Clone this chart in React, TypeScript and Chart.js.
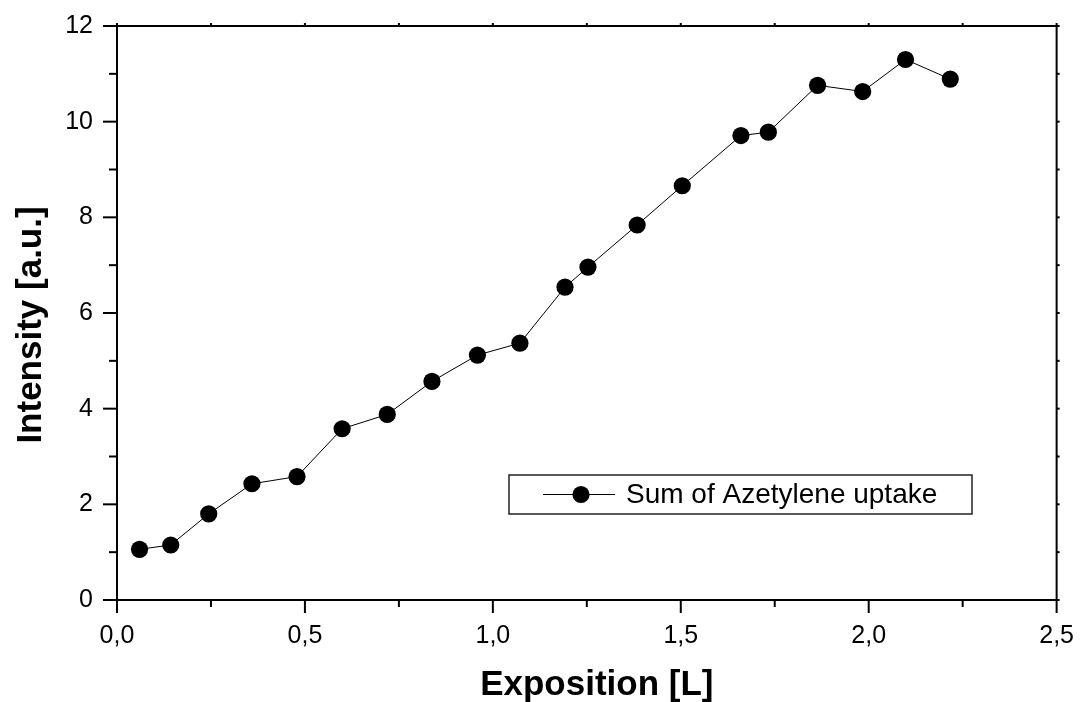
import { useEffect, useRef } from "react";
import { Chart, registerables } from "chart.js";

Chart.register(...registerables);

// Exposure in Langmuir and integrated uptake intensity
const exposition = [
  0.06, 0.143, 0.244, 0.359, 0.479, 0.599, 0.719, 0.838, 0.959, 1.072,
  1.192, 1.253, 1.384, 1.504, 1.66, 1.733, 1.864, 1.984, 2.098, 2.217,
];
const intensity = [
  1.06, 1.15, 1.8, 2.43, 2.58, 3.58, 3.88, 4.57, 5.12, 5.37,
  6.54, 6.96, 7.84, 8.66, 9.71, 9.78, 10.76, 10.63, 11.3, 10.89,
];

const seriesLabel = "Sum of Azetylene uptake";
const xTitle = "Exposition [L]";
const yTitle = "Intensity [a.u.]";

const xMajorTicks = [0, 0.5, 1.0, 1.5, 2.0, 2.5];
const xMinorTicks = [0.25, 0.75, 1.25, 1.75, 2.25];
const yMajorTicks = [0, 2, 4, 6, 8, 10, 12];
const yMinorTicks = [1, 3, 5, 7, 9, 11];

const FONT = "'Liberation Sans', Arial, Helvetica, sans-serif";

// Frame, tick marks, axis titles and the boxed legend
const framePlugin = {
  id: "originFrame",
  afterDraw(chart: any) {
    const { ctx, chartArea: a, scales } = chart;
    const xs = scales.x;
    const ys = scales.y;
    ctx.save();
    ctx.strokeStyle = "#000";
    ctx.fillStyle = "#000";

    // axis frame
    ctx.lineWidth = 2;
    ctx.strokeRect(a.left, a.top, a.right - a.left, a.bottom - a.top);

    const tick = (x1: number, y1: number, x2: number, y2: number) => {
      ctx.beginPath();
      ctx.moveTo(x1, y1);
      ctx.lineTo(x2, y2);
      ctx.stroke();
    };

    ctx.lineWidth = 2;
    for (const v of xMajorTicks) {
      const px = xs.getPixelForValue(v);
      tick(px, a.bottom, px, a.bottom + 13);
      tick(px, a.top, px, a.top - 3);
    }
    for (const v of xMinorTicks) {
      const px = xs.getPixelForValue(v);
      tick(px, a.bottom, px, a.bottom + 7);
      tick(px, a.top, px, a.top - 3);
    }
    for (const v of yMajorTicks) {
      const py = ys.getPixelForValue(v);
      tick(a.left, py, a.left - 14, py);
      tick(a.right, py, a.right + 3, py);
    }
    for (const v of yMinorTicks) {
      const py = ys.getPixelForValue(v);
      tick(a.left, py, a.left - 8, py);
      tick(a.right, py, a.right + 3, py);
    }

    // axis titles
    ctx.font = `bold 35px ${FONT}`;
    ctx.textAlign = "center";
    ctx.textBaseline = "alphabetic";
    ctx.fillText(xTitle, (a.left + a.right) / 2 + 10, a.bottom + 95);

    ctx.save();
    ctx.translate(a.left - 76, (a.top + a.bottom) / 2 + 12);
    ctx.rotate(-Math.PI / 2);
    ctx.fillText(yTitle, 0, 0);
    ctx.restore();

    // legend box
    const lx = a.left + 392;
    const ly = a.top + 449;
    const lw = 463;
    const lh = 39;
    ctx.lineWidth = 1.5;
    ctx.strokeStyle = "#222";
    ctx.strokeRect(lx, ly, lw, lh);
    const cy = ly + lh / 2;
    ctx.lineWidth = 1;
    ctx.strokeStyle = "#000";
    tick(lx + 34, cy, lx + 106, cy);
    ctx.beginPath();
    ctx.arc(lx + 72, cy, 8.6, 0, Math.PI * 2);
    ctx.fill();
    ctx.font = `28px ${FONT}`;
    ctx.textAlign = "left";
    ctx.textBaseline = "middle";
    ctx.fillText(seriesLabel, lx + 117, cy + 1);

    ctx.restore();
  },
};

export default function App() {
  const canvasRef = useRef<HTMLCanvasElement | null>(null);

  useEffect(() => {
    if (!canvasRef.current) return;
    const chart = new Chart(canvasRef.current, {
      type: "scatter",
      data: {
        datasets: [
          {
            label: seriesLabel,
            data: exposition.map((x, i) => ({ x, y: intensity[i] })),
            showLine: true,
            borderColor: "#000",
            borderWidth: 1,
            backgroundColor: "#000",
            pointRadius: 8.6,
            pointBorderWidth: 0,
            pointHoverRadius: 8.6,
            tension: 0,
          },
        ],
      },
      options: {
        responsive: true,
        maintainAspectRatio: false,
        animation: false,
        layout: { padding: { left: 0, top: 26, right: 20, bottom: 0 } },
        plugins: {
          legend: { display: false },
          tooltip: { enabled: false },
        },
        scales: {
          x: {
            type: "linear",
            min: 0,
            max: 2.5,
            border: { display: false },
            grid: {
              drawOnChartArea: false,
              drawTicks: true,
              tickLength: 13,
              color: "rgba(0,0,0,0)",
            },
            ticks: {
              stepSize: 0.5,
              padding: 8,
              color: "#000",
              font: { family: FONT, size: 25 },
              maxRotation: 0,
              callback: (v: any) => Number(v).toFixed(1).replace(".", ","),
            },
            afterFit: (s: any) => {
              s.height = 102;
            },
          },
          y: {
            type: "linear",
            min: 0,
            max: 12,
            border: { display: false },
            grid: {
              drawOnChartArea: false,
              drawTicks: true,
              tickLength: 14,
              color: "rgba(0,0,0,0)",
            },
            ticks: {
              stepSize: 2,
              padding: 10,
              color: "#000",
              font: { family: FONT, size: 25 },
              callback: (v: any) => String(v),
            },
            afterFit: (s: any) => {
              s.width = 117;
            },
          },
        },
      },
      plugins: [framePlugin],
    });
    return () => chart.destroy();
  }, []);

  return (
    <div
      style={{
        position: "absolute",
        left: 0,
        top: 0,
        width: 1082,
        height: 702,
        background: "#fff",
      }}
    >
      <canvas ref={canvasRef} />
    </div>
  );
}
